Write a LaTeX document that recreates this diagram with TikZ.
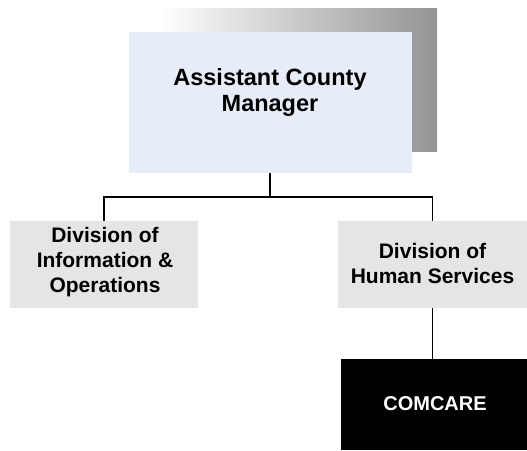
\documentclass[tikz,border=0pt]{standalone}
\usepackage{fontspec}
\setmainfont{Liberation Sans}
\begin{document}
\begin{tikzpicture}[x=1pt,y=-1pt,
  box/.style={draw=none,inner sep=0pt,outer sep=0pt},
  lbl/.style={inner sep=0pt,align=center,font=\bfseries\fontsize{21}{25}\selectfont},
  conn/.style={line width=1.6pt,black}]
\useasboundingbox (0,0) rectangle (527,450);
\definecolor{topblue}{HTML}{E6EDF8}
\definecolor{boxgray}{HTML}{E5E5E5}
% shadow
\shade[left color=white,right color=black!42] (160,8) rectangle (437,151);
% boxes
\node[box,fill=topblue,minimum width=283pt,minimum height=141pt] (acm) at (270.5,102.5) {};
\node[lbl,font=\bfseries\fontsize{23.5}{26}\selectfont] (acmt) at (270,92) {Assistant County\\Manager};
\node[box,fill=boxgray,minimum width=188pt,minimum height=87pt] (io) at (104,264.5) {};
\node[lbl] (iot) at (105,262.5) {Division of\\Information \&\\Operations};
\node[box,fill=boxgray,minimum width=189pt,minimum height=87pt] (hs) at (432.5,264.5) {};
\node[lbl] (hst) at (432.5,263) {Division of\\Human Services};
\node[box,fill=black,minimum width=186pt,minimum height=91pt] (cc) at (434,404.5) {};
\node[lbl,text=white,font=\bfseries\fontsize{20}{24}\selectfont] (cct) at (435,403.5) {COMCARE};
% connectors
\coordinate (j) at (270,197);
\draw[conn] (acm.south -| j) -- (j);
\draw[conn] (io.north) |- (j) -| (hs.north);
\draw[conn] (hs.south) -- (hs.south |- cc.north);
\end{tikzpicture}
\end{document}
